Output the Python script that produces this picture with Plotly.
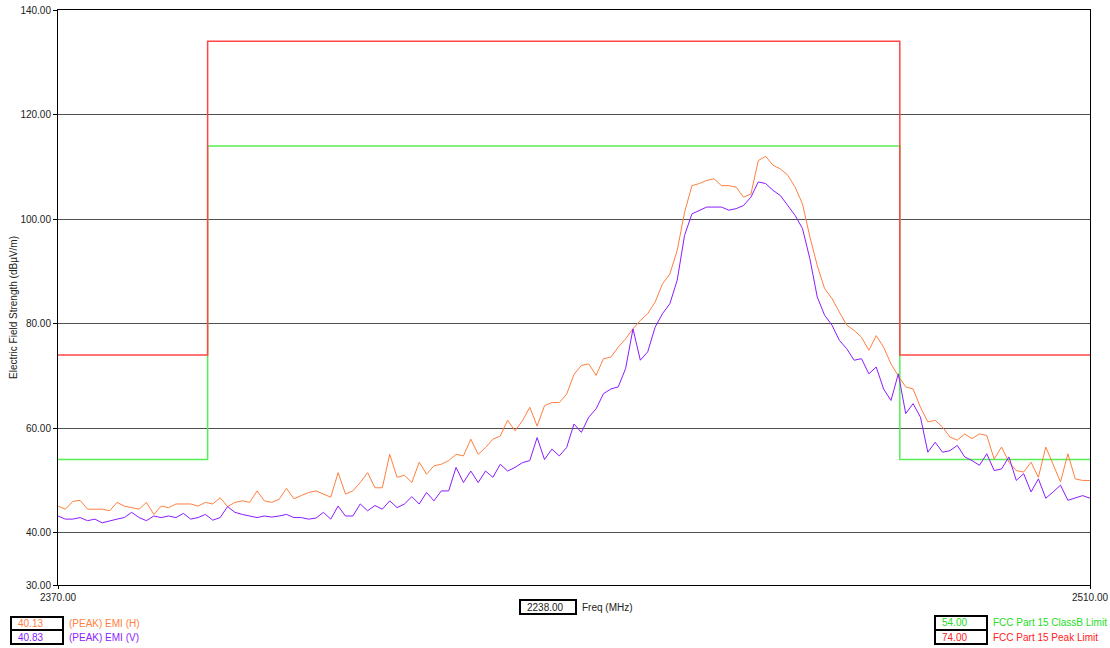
import plotly.graph_objects as go

# sweep: 2370 - 2510 MHz, 1 MHz steps
freq_mhz = [2370 + i for i in range(141)]

emi_h = [
    45.1, 44.5, 46.0, 46.2, 44.5, 44.5, 44.5, 44.2, 45.8, 45.1,
    44.8, 44.5, 45.8, 43.5, 45.1, 44.8, 45.5, 45.5, 45.5, 45.1,
    45.8, 45.5, 46.7, 45.0, 45.8, 46.1, 45.8, 48.0, 46.1, 45.8,
    46.4, 48.5, 46.5, 47.1, 47.7, 48.0, 47.4, 46.8, 51.5, 47.4,
    48.0, 49.6, 51.5, 48.6, 48.6, 55.0, 50.6, 51.0, 49.6, 53.5,
    51.2, 52.8, 53.1, 53.8, 55.0, 54.7, 57.9, 55.0, 56.3, 57.9,
    58.5, 61.5, 59.5, 61.4, 64.0, 60.4, 64.3, 64.9, 64.9, 66.5,
    70.3, 72.0, 72.3, 70.1, 73.3, 73.6, 75.5, 77.1, 79.0, 80.6,
    81.9, 84.1, 87.6, 89.5, 94.0, 101.3, 106.4, 106.8, 107.4, 107.7,
    106.4, 106.4, 106.1, 104.2, 104.8, 111.2, 112.0, 110.3, 109.6, 108.4,
    106.1, 102.9, 96.6, 91.1, 86.7, 84.8, 82.2, 79.7, 78.7, 77.4,
    74.9, 77.7, 75.5, 72.3, 70.0, 67.9, 67.5, 64.0, 61.2, 61.5,
    60.2, 58.3, 57.7, 58.9, 58.0, 58.9, 58.6, 54.1, 56.4, 53.5,
    51.9, 51.6, 53.5, 50.6, 56.4, 53.2, 49.7, 55.1, 50.3, 50.0,
    50.0,
]

emi_v = [
    43.2, 42.6, 42.6, 42.9, 42.3, 42.6, 41.9, 42.3, 42.6, 42.9,
    43.9, 42.9, 42.3, 43.2, 42.9, 43.2, 42.9, 43.7, 42.6, 42.9,
    43.5, 42.4, 42.9, 45.0, 43.9, 43.5, 43.2, 42.9, 43.2, 43.0,
    43.2, 43.5, 42.9, 42.9, 42.6, 42.8, 43.9, 42.6, 45.1, 43.2,
    43.2, 45.5, 44.2, 45.2, 44.5, 46.1, 44.8, 45.5, 46.9, 45.5,
    47.7, 46.1, 48.0, 48.0, 52.5, 49.6, 51.8, 49.6, 51.8, 50.6,
    53.1, 51.8, 52.5, 53.4, 53.8, 58.2, 54.0, 56.0, 54.7, 56.3,
    60.8, 59.2, 62.1, 63.7, 66.6, 67.5, 67.9, 71.4, 79.0, 73.0,
    74.6, 79.3, 81.9, 83.8, 88.3, 96.9, 101.0, 101.7, 102.3, 102.3,
    102.3, 101.7, 102.0, 102.6, 104.2, 107.1, 106.8, 105.5, 104.5, 102.6,
    100.7, 98.2, 92.4, 85.1, 81.6, 79.7, 76.8, 75.2, 73.0, 73.3,
    70.4, 71.7, 67.5, 65.3, 70.4, 62.8, 64.7, 62.1, 55.4, 57.3,
    55.4, 55.7, 56.7, 54.5, 53.8, 52.9, 55.1, 51.9, 52.2, 54.5,
    50.0, 51.3, 47.8, 50.3, 46.6, 47.8, 49.1, 46.2, 46.6, 47.1,
    46.6,
]

# limit lines (step at band edges)
limit_freq = [2370, 2390.3, 2484.2, 2510]
classb_limit = [54, 114, 54, 54]
peak_limit = [74, 134, 74, 74]

y_ticks = [30, 40, 60, 80, 100, 120, 140]
x_ticks = [2370, 2510]

ORANGE = '#FF7F3F'
PURPLE = '#8A1CFF'
GREEN = '#55EE55'
RED = '#FF4545'

# plot area in pixels (for placing the readout boxes)
L, R, T, B = 58, 1090, 10, 585


def px(x):
    return (x - L) / (R - L)


def py(y):
    return (B - y) / (B - T)


fig = go.Figure()
fig.add_trace(go.Scatter(x=limit_freq, y=classb_limit, mode='lines',
                         line=dict(color=GREEN, width=1.5, shape='hv')))
fig.add_trace(go.Scatter(x=limit_freq, y=peak_limit, mode='lines',
                         line=dict(color=RED, width=1.5, shape='hv')))
fig.add_trace(go.Scatter(x=freq_mhz, y=emi_h, mode='lines',
                         line=dict(color=ORANGE, width=1)))
fig.add_trace(go.Scatter(x=freq_mhz, y=emi_v, mode='lines',
                         line=dict(color=PURPLE, width=1)))

font = dict(family='Liberation Sans, Arial', size=10, color='#222')

fig.update_xaxes(range=[2370, 2510], tickvals=x_ticks, tickformat='.2f',
                 showgrid=False, showline=True, linecolor='black', mirror=True,
                 ticks='outside', ticklen=3, tickcolor='black', tickfont=font,
                 zeroline=False, automargin=False)
fig.update_yaxes(range=[30, 140], tickvals=y_ticks, tickformat='.2f',
                 showgrid=True, gridcolor='#505050', gridwidth=1,
                 showline=True, linecolor='black', mirror=True,
                 ticks='outside', ticklen=4, tickcolor='black', tickfont=font,
                 zeroline=False, automargin=False)

shapes = []
annotations = []


def readout(x0, x1, y0, y1, value, label, color):
    # black framed box with the marker value, label text to the right
    shapes.append(dict(type='rect', xref='paper', yref='paper',
                       x0=px(x0), x1=px(x1), y0=py(y1), y1=py(y0),
                       line=dict(color='black', width=2), fillcolor='white'))
    annotations.append(dict(xref='paper', yref='paper', x=px(x0 + 5), y=py((y0 + y1) / 2),
                            xanchor='left', yanchor='middle', showarrow=False,
                            text=value, font=dict(family='Liberation Sans, Arial', size=10, color=color)))
    annotations.append(dict(xref='paper', yref='paper', x=px(x1 + 4), y=py((y0 + y1) / 2),
                            xanchor='left', yanchor='middle', showarrow=False,
                            text=label, font=dict(family='Liberation Sans, Arial', size=10, color=color)))


readout(11, 63, 617, 630, '40.13', '(PEAK) EMI (H)', ORANGE)
readout(11, 63, 630, 644, '40.83', '(PEAK) EMI (V)', PURPLE)
readout(935, 987, 616, 630, '54.00', 'FCC Part 15 ClassB Limit', '#22DD22')
readout(935, 987, 630, 644, '74.00', 'FCC Part 15 Peak Limit', '#FF2020')
readout(520, 576, 600, 614, '2238.00', 'Freq (MHz)', '#222')

annotations.append(dict(xref='paper', yref='paper', x=px(14), y=py(308),
                        xanchor='center', yanchor='middle', showarrow=False,
                        textangle=-90, text='Electric Field Strength (dBµV/m)',
                        font=dict(family='Liberation Sans, Arial', size=10, color='#222')))

fig.update_layout(
    width=1110, height=648,
    margin=dict(l=L, r=1110 - R, t=T, b=648 - B),
    plot_bgcolor='white', paper_bgcolor='white',
    showlegend=False,
    shapes=shapes,
    annotations=annotations,
)

fig.write_html("out.html", config={'displayModeBar': False},
               post_script="document.body.style.margin='0';")
